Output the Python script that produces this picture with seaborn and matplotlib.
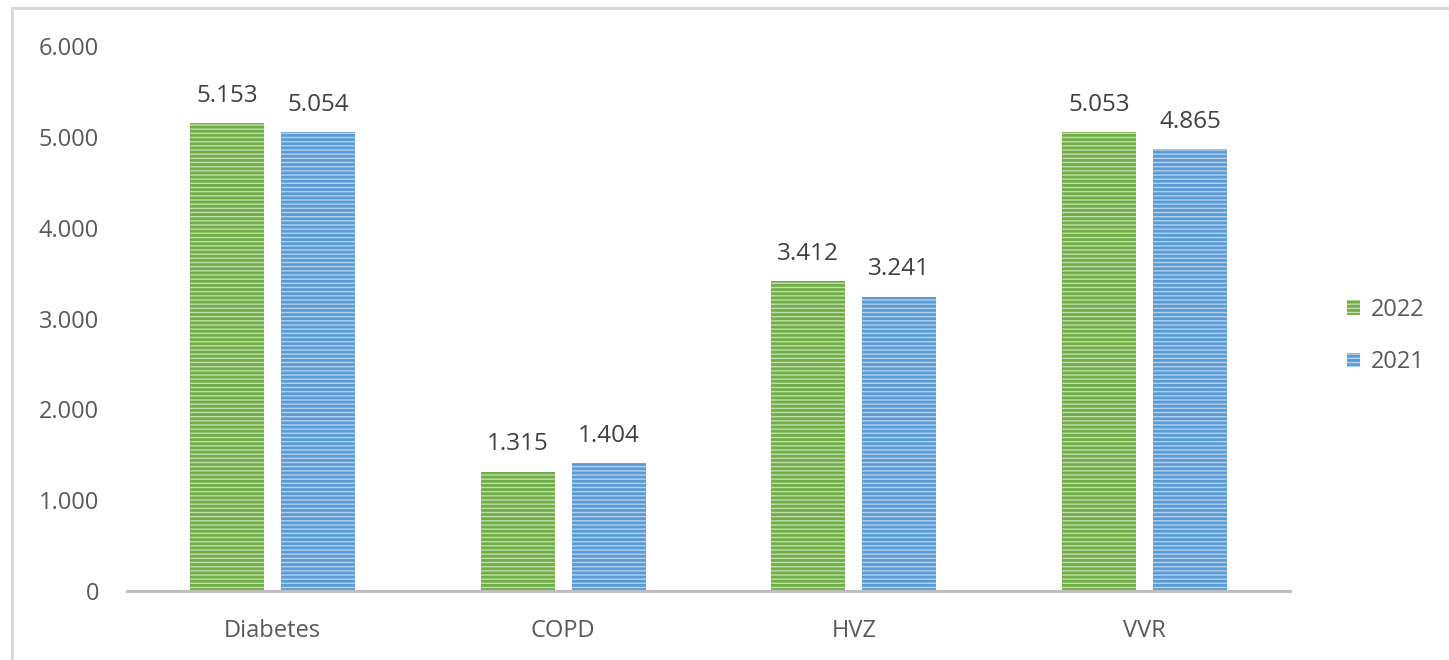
import pandas as pd
import matplotlib
matplotlib.use("Agg")
import matplotlib.pyplot as plt
import seaborn as sns
from matplotlib.lines import Line2D
from matplotlib.patches import Patch

# Daten
categories = ["Diabetes", "COPD", "HVZ", "VVR"]
years = ["2022", "2021"]
values_2022 = [5153, 1315, 3412, 5053]
values_2021 = [5054, 1404, 3241, 4865]
y_ticks = [0, 1000, 2000, 3000, 4000, 5000, 6000]

face_colors = {"2022": "#c0dfab", "2021": "#b3d2f0"}
hatch_colors = {"2022": "#70ad47", "2021": "#5b9bd5"}
text_color = "#595959"


def de_format(v):
    return f"{v:,}".replace(",", ".")


df = pd.DataFrame({
    "Kategorie": categories * 2,
    "Jahr": ["2022"] * len(categories) + ["2021"] * len(categories),
    "Wert": values_2022 + values_2021,
})

sns.set_style("white")
plt.rcParams["font.family"] = ["Open Sans", "DejaVu Sans"]
plt.rcParams["hatch.linewidth"] = 2.0

fig = plt.figure(figsize=(14.49, 6.6), dpi=100)
ax = fig.add_axes([127 / 1449, 1 - 591 / 660, (1290 - 127) / 1449, (591 - 46) / 660])

sns.barplot(data=df, x="Kategorie", y="Wert", hue="Jahr", hue_order=years,
            order=categories, width=0.626, gap=0.187, ax=ax, legend=False,
            palette=face_colors)

# Schraffur und Beschriftung
for container, year in zip(ax.containers, years):
    for bar in container:
        bar.set_facecolor(face_colors[year])
        bar.set_edgecolor(hatch_colors[year])
        bar.set_hatch("----")
        bar.set_linewidth(0)
    ax.bar_label(container, labels=[de_format(int(v)) for v in container.datavalues],
                 padding=11, fontsize=17.5, color="#404040")

ax.set_ylim(0, 6000)
ax.set_yticks(y_ticks)
ax.set_yticklabels([de_format(t) for t in y_ticks])
ax.set_xlabel("")
ax.set_ylabel("")
ax.tick_params(axis="y", length=0, pad=20, labelsize=17, labelcolor=text_color)
ax.tick_params(axis="x", length=0, pad=20, labelsize=17, labelcolor=text_color)

for side in ["top", "right", "left"]:
    ax.spines[side].set_visible(False)
ax.spines["bottom"].set_color("#bfbfbf")
ax.spines["bottom"].set_linewidth(2.2)

handles = [Patch(facecolor=face_colors[y], edgecolor=hatch_colors[y], hatch="----",
                 linewidth=0) for y in years]
fig.legend(handles, years, loc="center left", bbox_to_anchor=(1326 / 1449, 1 - 336 / 660),
           frameon=False, fontsize=17, labelcolor=text_color, handlelength=0.55,
           handleheight=0.55, handletextpad=0.45, labelspacing=1.2)

# Rahmen
fig.add_artist(Line2D([12 / 1449, 1], [1 - 8 / 660, 1 - 8 / 660], color="#d9d9d9",
                      linewidth=2.2, transform=fig.transFigure))
fig.add_artist(Line2D([12 / 1449, 12 / 1449], [0, 1 - 8 / 660], color="#d9d9d9",
                      linewidth=2.2, transform=fig.transFigure))

fig.savefig("out.png", dpi=100)
